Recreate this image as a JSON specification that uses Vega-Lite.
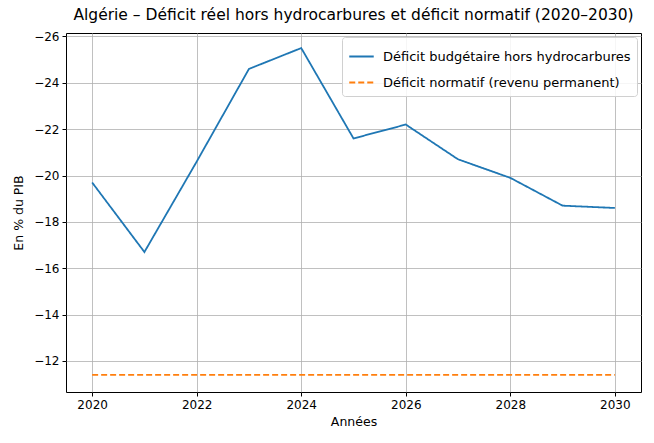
{
  "$schema": "https://vega.github.io/schema/vega-lite/v6.json",
  "autosize": {"type": "none"},
  "width": 575,
  "height": 359,
  "padding": {"left": 66, "top": 33, "right": 13, "bottom": 51},
  "background": "white",
  "title": {"text": "Algérie – Déficit réel hors hydrocarbures et déficit normatif (2020–2030)", "font": "DejaVu Sans", "fontSize": 15.5, "fontWeight": "normal", "color": "black", "offset": 7},
  "data": {"values": [
    {"year": 2020, "value": -19.7, "series": "Déficit budgétaire hors hydrocarbures"},
    {"year": 2021, "value": -16.7, "series": "Déficit budgétaire hors hydrocarbures"},
    {"year": 2022, "value": -20.6, "series": "Déficit budgétaire hors hydrocarbures"},
    {"year": 2023, "value": -24.6, "series": "Déficit budgétaire hors hydrocarbures"},
    {"year": 2024, "value": -25.5, "series": "Déficit budgétaire hors hydrocarbures"},
    {"year": 2025, "value": -21.6, "series": "Déficit budgétaire hors hydrocarbures"},
    {"year": 2026, "value": -22.2, "series": "Déficit budgétaire hors hydrocarbures"},
    {"year": 2027, "value": -20.7, "series": "Déficit budgétaire hors hydrocarbures"},
    {"year": 2028, "value": -19.9, "series": "Déficit budgétaire hors hydrocarbures"},
    {"year": 2029, "value": -18.7, "series": "Déficit budgétaire hors hydrocarbures"},
    {"year": 2030, "value": -18.6, "series": "Déficit budgétaire hors hydrocarbures"},
    {"year": 2020, "value": -11.4, "series": "Déficit normatif (revenu permanent)"},
    {"year": 2021, "value": -11.4, "series": "Déficit normatif (revenu permanent)"},
    {"year": 2022, "value": -11.4, "series": "Déficit normatif (revenu permanent)"},
    {"year": 2023, "value": -11.4, "series": "Déficit normatif (revenu permanent)"},
    {"year": 2024, "value": -11.4, "series": "Déficit normatif (revenu permanent)"},
    {"year": 2025, "value": -11.4, "series": "Déficit normatif (revenu permanent)"},
    {"year": 2026, "value": -11.4, "series": "Déficit normatif (revenu permanent)"},
    {"year": 2027, "value": -11.4, "series": "Déficit normatif (revenu permanent)"},
    {"year": 2028, "value": -11.4, "series": "Déficit normatif (revenu permanent)"},
    {"year": 2029, "value": -11.4, "series": "Déficit normatif (revenu permanent)"},
    {"year": 2030, "value": -11.4, "series": "Déficit normatif (revenu permanent)"}
  ]},
  "mark": {"type": "line", "strokeWidth": 1.8, "clip": true},
  "encoding": {
    "x": {"field": "year", "type": "quantitative",
      "scale": {"domain": [2019.5, 2030.5], "nice": false, "zero": false},
      "axis": {"title": "Années", "values": [2020, 2022, 2024, 2026, 2028, 2030], "format": "d"}},
    "y": {"field": "value", "type": "quantitative",
      "scale": {"domain": [-26.15, -10.66], "nice": false, "zero": false, "reverse": true},
      "axis": {"title": "En % du PIB", "values": [-26, -24, -22, -20, -18, -16, -14, -12]}},
    "color": {"field": "series", "type": "nominal",
      "scale": {"domain": ["Déficit budgétaire hors hydrocarbures", "Déficit normatif (revenu permanent)"], "range": ["#1f77b4", "#ff7f0e"]},
      "legend": {"title": null, "orient": "top-right", "offset": 4}},
    "strokeDash": {"field": "series", "type": "nominal",
      "scale": {"domain": ["Déficit budgétaire hors hydrocarbures", "Déficit normatif (revenu permanent)"], "range": [[1, 0], [6, 3]]},
      "legend": {"title": null, "orient": "top-right", "offset": 4}}
  },
  "config": {
    "font": "DejaVu Sans",
    "view": {"stroke": "black", "strokeWidth": 1},
    "axis": {
      "labelFont": "DejaVu Sans", "labelFontSize": 12, "labelColor": "black",
      "titleFont": "DejaVu Sans", "titleFontSize": 12.5, "titleFontWeight": "normal", "titleColor": "black",
      "domain": false, "tickColor": "black", "tickSize": 4, "tickWidth": 1,
      "grid": true, "gridColor": "#b0b0b0", "gridWidth": 0.8, "labelPadding": 3
    },
    "axisX": {"titlePadding": 5},
    "axisY": {"titlePadding": 8},
    "legend": {
      "labelFont": "DejaVu Sans", "labelFontSize": 13, "labelColor": "black",
      "symbolType": "stroke", "symbolSize": 600, "symbolStrokeWidth": 2,
      "strokeColor": "#d0d0d0", "fillColor": "rgba(255,255,255,0.85)", "padding": 6, "cornerRadius": 3,
      "rowPadding": 5, "labelLimit": 400, "labelOffset": 8
    }
  }
}
